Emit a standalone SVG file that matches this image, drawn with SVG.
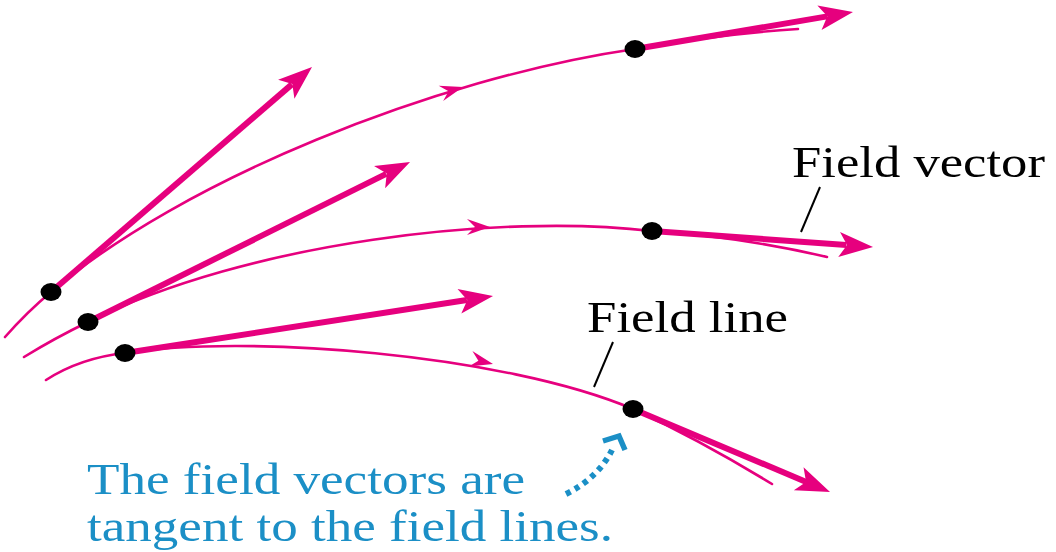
<svg xmlns="http://www.w3.org/2000/svg" xmlns:xlink="http://www.w3.org/1999/xlink" width="1056" height="552" viewBox="0 0 1056 552">
<style>
.fl{fill:none;stroke:#e6007e;stroke-width:2.6;stroke-linecap:round}
.vs{stroke:#e6007e;stroke-width:6;fill:none}
.mag{fill:#e6007e}
.dot{fill:#000}
.lead{stroke:#000;stroke-width:2;fill:none}
.lbl{font-family:"Liberation Serif","Times New Roman",serif;font-size:45px;fill:#000}
.blue{font-family:"Liberation Serif","Times New Roman",serif;font-size:45px;fill:#1b8fc6}
</style>
<defs>
<path id="bh" d="M0,0 L-34,-12.5 L-26,0 L-34,12.5 Z"/>
<path id="sh" d="M0,0 L-23,-8 L-15,0 L-23,8 Z"/>
</defs>
<rect width="1056" height="552" fill="#fff"/>
<g id="connectors">
<!-- field lines -->
<path class="fl" d="M5,337 Q27,312 51,292 C180,181 435,78 635,49 Q720,34 798,29"/>
<path class="fl" d="M24,357 Q55,338 88,322 C248,242 500,213 652,231 Q742,237 827,257"/>
<path class="fl" d="M46,380 Q80,358 125,353 C245,334 503,354 633,409 Q700,440 772,484"/>
<!-- mid arrows on field lines -->
<use href="#sh" class="mag" transform="translate(463,87) rotate(-16)"/>
<use href="#sh" class="mag" transform="translate(490,227) rotate(0)"/>
<use href="#sh" class="mag" transform="translate(493,364) rotate(13)"/>
<!-- field vectors -->
<g transform="translate(51,292) rotate(-40.76)"><line class="vs" x1="0" y1="0" x2="318" y2="0"/><use href="#bh" class="mag" x="344.6"/></g>
<g transform="translate(88,322) rotate(-26.42)"><line class="vs" x1="0" y1="0" x2="333" y2="0"/><use href="#bh" class="mag" x="359.6"/></g>
<g transform="translate(125,353) rotate(-8.80)"><line class="vs" x1="0" y1="0" x2="346" y2="0"/><use href="#bh" class="mag" x="372.4"/></g>
<g transform="translate(635,49) rotate(-9.63)"><line class="vs" x1="0" y1="0" x2="195" y2="0"/><use href="#bh" class="mag" x="221.1"/></g>
<g transform="translate(652,231) rotate(4.14)"><line class="vs" x1="0" y1="0" x2="195" y2="0"/><use href="#bh" class="mag" x="221.6"/></g>
<g transform="translate(633,409) rotate(22.85)"><line class="vs" x1="0" y1="0" x2="188" y2="0"/><use href="#bh" class="mag" x="213.8"/></g>
<!-- leader lines -->
<line class="lead" x1="820" y1="187" x2="801" y2="232"/>
<line class="lead" x1="613" y1="342" x2="594" y2="387"/>
<!-- dotted blue arrow -->
<path d="M566,494 Q598,478 612,450" fill="none" stroke="#1b8fc6" stroke-width="6" stroke-dasharray="5 5"/>
<polyline points="603,441 619,436 625,450" fill="none" stroke="#1b8fc6" stroke-width="5.5"/>
</g>
<g id="dots">
<ellipse class="dot" cx="51" cy="292" rx="10.5" ry="9"/>
<ellipse class="dot" cx="88" cy="322" rx="10.5" ry="9"/>
<ellipse class="dot" cx="125" cy="353" rx="10.5" ry="9"/>
<ellipse class="dot" cx="635" cy="49" rx="10.5" ry="9"/>
<ellipse class="dot" cx="652" cy="231" rx="10.5" ry="9"/>
<ellipse class="dot" cx="633" cy="409" rx="10.5" ry="9"/>
</g>
<g id="label-field-vector"><text class="lbl" x="792" y="177" textLength="253" lengthAdjust="spacingAndGlyphs">Field vector</text></g>
<g id="label-field-line"><text class="lbl" x="587" y="332" textLength="201" lengthAdjust="spacingAndGlyphs">Field line</text></g>
<g id="caption">
<text class="blue" x="87" y="494" textLength="438" lengthAdjust="spacingAndGlyphs">The field vectors are</text>
<text class="blue" x="87" y="541" textLength="526" lengthAdjust="spacingAndGlyphs">tangent to the field lines.</text>
</g>
</svg>
